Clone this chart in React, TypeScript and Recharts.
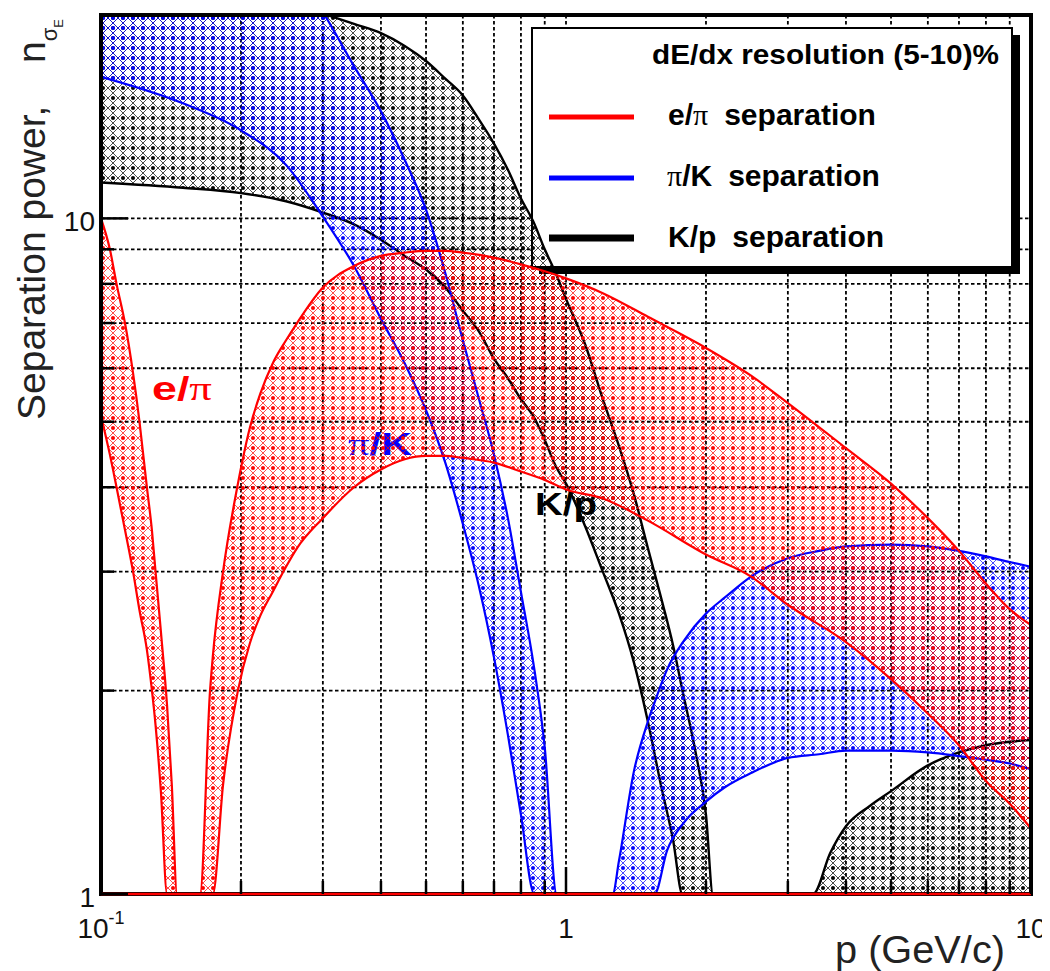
import React from 'react';
import { ComposedChart, Area, XAxis, YAxis, CartesianGrid, ReferenceLine, ReferenceArea } from 'recharts';

// ---------- data ----------
// e/pi separation band: momentum, 10% resolution (lower), 5% resolution (upper)
const epP = [0.1, 0.1045, 0.108, 0.1126, 0.1172, 0.121, 0.1255, 0.1287, 0.131, 0.1345, 0.1387, 0.142, 0.1457,
  0.1633, 0.1716, 0.174, 0.183, 0.197, 0.209, 0.22, 0.234, 0.25, 0.264, 0.3, 0.35, 0.4, 0.45, 0.5, 0.55, 0.6, 0.7, 0.8, 0.9,
  1.0, 1.2, 1.5, 2, 2.5, 3, 4, 5, 6, 7, 8, 9, 10];
const epHi = [10, 9, 8, 7, 5.9, 5, 4, 3.45, 3, 2.45, 1.9, 1.45, 1,
  1, 2, 2.25, 3, 4.05, 4.9, 5.5, 6.1, 6.6, 7.0, 7.9, 8.5, 8.8, 8.9, 8.95, 8.95, 8.9, 8.75, 8.55, 8.35,
  8.15, 7.75, 7.15, 6.43, 5.85, 5.33, 4.57, 4.05, 3.6, 3.22, 2.88, 2.64, 2.5];
const epLo = [5.1, 4.47, 4, 3.46, 3, 2.63, 2.3, 2, 1.78, 1.42, 1, 1, 1,
  1, 1, 1, 1.45, 2, 2.35, 2.58, 2.8, 3.05, 3.25, 3.6, 4.0, 4.25, 4.4, 4.45, 4.45, 4.42, 4.35, 4.22, 4.1,
  3.97, 3.85, 3.57, 3.18, 2.95, 2.68, 2.36, 2.08, 1.85, 1.66, 1.47, 1.36, 1.25];

// pi/K separation band
const pkP = [0.1, 0.15, 0.2, 0.25, 0.296, 0.35, 0.4, 0.45, 0.5, 0.55, 0.6, 0.65, 0.7, 0.75, 0.8, 0.855, 0.9, 0.955,
  1.26, 1.3, 1.4, 1.5, 1.55, 1.65, 1.8, 2, 2.2, 2.5, 3, 3.5, 4, 5, 6, 7, 8, 9, 10];
const pkHi = [32, 29.5, 27, 24, 20.5, 16.8, 14.4, 12.2, 10.3, 8.3, 6.6, 5.4, 4.47, 3.6, 2.8, 2.15, 1.65, 1.0,
  1, 1.12, 1.52, 1.8, 1.92, 2.15, 2.38, 2.6, 2.75, 2.95, 3.14, 3.22, 3.27, 3.29, 3.27, 3.22, 3.16, 3.1, 3.05];
const pkLo = [16.2, 14.8, 13.5, 12, 10.2, 8.5, 7.1, 6.1, 5.2, 4.35, 3.53, 2.85, 2.24, 1.72, 1.31, 1.0, 1, 1,
  1, 1, 1, 1, 1, 1.16, 1.28, 1.37, 1.44, 1.51, 1.59, 1.61, 1.63, 1.63, 1.62, 1.6, 1.58, 1.56, 1.53];

// K/p separation band
const kpP = [0.1, 0.15, 0.2, 0.25, 0.3, 0.35, 0.4, 0.45, 0.5, 0.55, 0.6, 0.65, 0.7, 0.75, 0.8, 0.85, 0.9, 0.95,
  1.0, 1.1, 1.2, 1.3, 1.4, 1.5, 1.6, 1.7, 1.78, 1.9, 2.0, 2.07, 3.4, 3.7, 4, 4.5, 5, 6, 7, 8, 9, 10];
const kpHi = [22.6, 22.3, 21.8, 21, 20.1, 19.4, 18.8, 18, 17.1, 16.1, 15.2, 14.0, 12.9, 11.8, 10.7, 9.9, 9.0, 8.3,
  7.6, 6.5, 5.4, 4.6, 3.9, 3.25, 2.75, 2.33, 2.0, 1.62, 1.31, 1.0, 1, 1.15, 1.26, 1.35, 1.42, 1.55, 1.62, 1.66, 1.68, 1.69];
const kpLo = [11.3, 11.1, 10.9, 10.6, 10.2, 9.8, 9.3, 8.8, 8.4, 7.9, 7.3, 6.8, 6.2, 5.8, 5.4, 5.1, 4.7, 4.3,
  4.05, 3.5, 3.0, 2.6, 2.2, 1.8, 1.45, 1.2, 1.0, 1, 1, 1, 1, 1, 1, 1, 1, 1, 1, 1, 1, 1];

// axes
const xDomain = [0.1, 10];
const yDomain = [1, 20];
const xTicks = [0.1, 0.2, 0.3, 0.4, 0.5, 0.6, 0.7, 0.8, 0.9, 1, 2, 3, 4, 5, 6, 7, 8, 9, 10];
const yTicks = [1, 2, 3, 4, 5, 6, 7, 8, 9, 10, 20];
const xMajor = [0.1, 1, 10];
const yMajor = [1, 10];
const xLabelValues = [0.1, 1, 10];
const xLabelBase = ['10', '1', '10'];
const xLabelExp = ['-1', '', ''];
const yLabelValues = [1, 10];
const yLabelTexts = ['1', '10'];

const RED = '#ff0000';
const BLUE = '#0000ff';
const BLACK = '#000000';
const SANS = '"Liberation Sans", Arial, Helvetica, sans-serif';
const SERIF = '"Liberation Serif", "Times New Roman", serif';

const build = (p: number[], lo: number[], hi: number[]) => p.map((v, i) => ({ p: v, r: [lo[i], hi[i]] }));
const epData = build(epP, epLo, epHi);
const pkData = build(pkP, pkLo, pkHi);
const kpData = build(kpP, kpLo, kpHi);

const MINOR = 13;
const MAJOR = 27;

const BottomTick = (props: any) => {
  const { x, y, payload } = props;
  const v = payload.value;
  const len = xMajor.includes(v) ? MAJOR : MINOR;
  const idx = xLabelValues.indexOf(v);
  return (
    <g>
      <line x1={x} y1={y} x2={x} y2={y - len} stroke="#000" strokeWidth={2.5} />
      {idx >= 0 && (
        <text x={x} y={y + 44} textAnchor="middle" fontFamily={SANS} fontSize={28} fill="#111">
          <tspan>{xLabelBase[idx]}</tspan>
          {xLabelExp[idx] && (
            <tspan dy={-14} fontSize={18}>{xLabelExp[idx]}</tspan>
          )}
        </text>
      )}
    </g>
  );
};

const TopTick = (props: any) => {
  const { x, y, payload } = props;
  const len = xMajor.includes(payload.value) ? MAJOR : MINOR;
  return <line x1={x} y1={y} x2={x} y2={y + len} stroke="#000" strokeWidth={2.5} />;
};

const LeftTick = (props: any) => {
  const { x, y, payload } = props;
  const v = payload.value;
  const len = yMajor.includes(v) ? MAJOR : MINOR;
  const idx = yLabelValues.indexOf(v);
  return (
    <g>
      <line x1={x} y1={y} x2={x + len} y2={y} stroke="#000" strokeWidth={2.5} />
      {idx >= 0 && (
        <text x={x - 6} y={y + 13} textAnchor="end" fontFamily={SANS} fontSize={28} fill="#111">
          {yLabelTexts[idx]}
        </text>
      )}
    </g>
  );
};

const RightTick = (props: any) => {
  const { x, y, payload } = props;
  const len = yMajor.includes(payload.value) ? MAJOR : MINOR;
  return <line x1={x} y1={y} x2={x - len} y2={y} stroke="#000" strokeWidth={2.5} />;
};

const patterns = [
  { id: 'hatchRed', color: RED },
  { id: 'hatchBlue', color: BLUE },
  { id: 'hatchBlack', color: BLACK },
];

export default function App() {
  return (
    <div style={{ width: 1042, height: 963 }}>
      <ComposedChart
        width={1042}
        height={963}
        margin={{ top: 7, right: 19, bottom: 37, left: 0 }}
        style={{ fontFamily: SANS }}
      >
        <defs>
          {patterns.map((pt) => (
            <pattern key={pt.id} id={pt.id} patternUnits="userSpaceOnUse" width={10} height={10}>
              <path d="M0,0 L10,10 M10,0 L0,10" stroke={pt.color} strokeWidth={1} strokeOpacity={0.7} />
              <circle cx={5} cy={0} r={2} fill={pt.color} />
              <circle cx={5} cy={10} r={2} fill={pt.color} />
            </pattern>
          ))}
        </defs>

        <XAxis
          dataKey="p"
          type="number"
          scale="log"
          domain={xDomain}
          allowDataOverflow
          ticks={xTicks}
          interval={0}
          height={40}
          tickSize={0}
          tickMargin={0}
          axisLine={false}
          tickLine={false}
          tick={<BottomTick />}
        />
        <XAxis
          xAxisId="top"
          orientation="top"
          dataKey="p"
          type="number"
          scale="log"
          domain={xDomain}
          allowDataOverflow
          ticks={xTicks}
          interval={0}
          height={0}
          tickSize={0}
          tickMargin={0}
          axisLine={false}
          tickLine={false}
          tick={<TopTick />}
        />
        <YAxis
          type="number"
          scale="log"
          domain={yDomain}
          allowDataOverflow
          ticks={yTicks}
          interval={0}
          width={93}
          tickSize={0}
          tickMargin={0}
          axisLine={false}
          tickLine={false}
          tick={<LeftTick />}
        />
        <YAxis
          yAxisId="right"
          orientation="right"
          type="number"
          scale="log"
          domain={yDomain}
          allowDataOverflow
          ticks={yTicks}
          interval={0}
          width={0}
          tickSize={0}
          tickMargin={0}
          axisLine={false}
          tickLine={false}
          tick={<RightTick />}
        />

        <CartesianGrid stroke="#000" strokeWidth={1.8} strokeDasharray="3.5 2.5" />

        <Area
          data={kpData}
          dataKey="r"
          type="monotone"
          stroke={BLACK}
          strokeWidth={2.4}
          fill="url(#hatchBlack)"
          fillOpacity={1}
          isAnimationActive={false}
          dot={false}
          activeDot={false}
        />
        <Area
          data={pkData}
          dataKey="r"
          type="monotone"
          stroke={BLUE}
          strokeWidth={2.2}
          fill="url(#hatchBlue)"
          fillOpacity={1}
          isAnimationActive={false}
          dot={false}
          activeDot={false}
        />
        <Area
          data={epData}
          dataKey="r"
          type="monotone"
          stroke={RED}
          strokeWidth={2.2}
          fill="url(#hatchRed)"
          fillOpacity={1}
          isAnimationActive={false}
          dot={false}
          activeDot={false}
        />

        <ReferenceArea x1={0.1} x2={10} y1={1} y2={20} fill="none" stroke="#000" strokeWidth={4} ifOverflow="visible" />
        <ReferenceLine y={1} stroke={RED} strokeWidth={2.4} ifOverflow="visible" />

        {/* in-plot labels */}
        <g fontFamily={SANS} fontWeight="bold">
          <text x={144} y={392} fontSize={33} fill={RED} textLength={60} lengthAdjust="spacingAndGlyphs">
            <tspan>e/</tspan>
            <tspan fontFamily={SERIF} fontWeight="normal">π</tspan>
          </text>
          <text x={340} y={447} fontSize={32} fill={BLUE} textLength={64} lengthAdjust="spacingAndGlyphs">
            <tspan fontFamily={SERIF} fontWeight="normal">π</tspan>
            <tspan>/K</tspan>
          </text>
          <text x={527} y={507} fontSize={32} fill={BLACK} textLength={62} lengthAdjust="spacingAndGlyphs">K/p</text>
        </g>

        {/* legend */}
        <g>
          <rect x={531} y={27} width={481} height={239} fill="#000" />
          <rect x={524} y={20} width={480} height={239} fill="#fff" stroke="#000" strokeWidth={2} />
          <text x={644} y={56} fontFamily={SANS} fontWeight="bold" fontSize={28} fill="#000" textLength={347} lengthAdjust="spacingAndGlyphs">
            dE/dx resolution (5-10)%
          </text>
          <line x1={541} y1={109} x2={626} y2={109} stroke={RED} strokeWidth={5} />
          <line x1={541} y1={170} x2={626} y2={170} stroke={BLUE} strokeWidth={5} />
          <line x1={541} y1={230} x2={626} y2={230} stroke={BLACK} strokeWidth={7} />
          <text x={660} y={117} fontFamily={SANS} fontWeight="bold" fontSize={30} fill="#000">
            <tspan>e/</tspan>
            <tspan fontFamily={SERIF} fontWeight="normal">π</tspan>
            <tspan dx={16}>separation</tspan>
          </text>
          <text x={659} y={178} fontFamily={SANS} fontWeight="bold" fontSize={30} fill="#000">
            <tspan fontFamily={SERIF} fontWeight="normal">π</tspan>
            <tspan>/K</tspan>
            <tspan dx={16}>separation</tspan>
          </text>
          <text x={660} y={239} fontFamily={SANS} fontWeight="bold" fontSize={30} fill="#000">
            <tspan>K/p</tspan>
            <tspan dx={16}>separation</tspan>
          </text>
        </g>

        {/* axis titles */}
        <text x={-412} y={37} transform="rotate(-90)" fontFamily={SANS} fontSize={39} fill="#222">
          Separation power,
        </text>
        <text x={-55} y={37} transform="rotate(-90)" fontFamily={SANS} fontSize={39} fill="#222">
          <tspan>n</tspan>
          <tspan fontSize={22} dy={12}>σ</tspan>
          <tspan fontSize={13} dy={6}>E</tspan>
        </text>
        <text x={827} y={955} fontFamily={SANS} fontSize={39} fill="#222" textLength={170} lengthAdjust="spacingAndGlyphs">
          p (GeV/c)
        </text>
      </ComposedChart>
    </div>
  );
}
